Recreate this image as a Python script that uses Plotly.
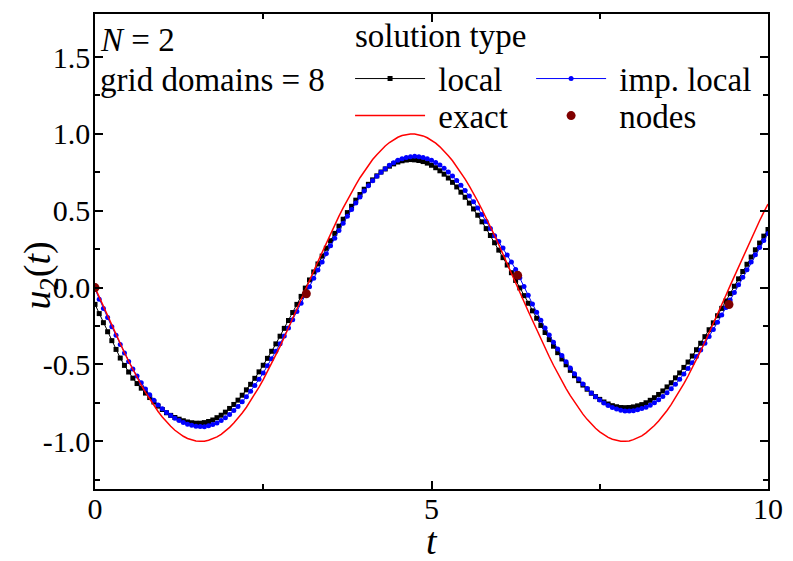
import numpy as np
import plotly.graph_objects as go

local = [
    -0.109, -0.169, -0.228, -0.287, -0.345, -0.402, -0.458, -0.506, -0.549, -0.589,
    -0.624, -0.654, -0.686, -0.715, -0.744, -0.771, -0.793, -0.814, -0.831, -0.845,
    -0.856, -0.866, -0.874, -0.879, -0.882, -0.882, -0.878, -0.871, -0.861, -0.846,
    -0.830, -0.810, -0.786, -0.760, -0.732, -0.700, -0.665, -0.629, -0.590, -0.548,
    -0.505, -0.460, -0.414, -0.366, -0.316, -0.265, -0.214, -0.162, -0.109, -0.057,
    -0.003, 0.050, 0.102, 0.154, 0.205, 0.256, 0.305, 0.353, 0.400, 0.445,
    0.488, 0.529, 0.569, 0.606, 0.640, 0.672, 0.701, 0.727, 0.752, 0.772,
    0.790, 0.805, 0.817, 0.825, 0.830, 0.833, 0.831, 0.827, 0.820, 0.810,
    0.796, 0.780, 0.760, 0.738, 0.713, 0.685, 0.655, 0.621, 0.588, 0.550,
    0.512, 0.471, 0.428, 0.384, 0.339, 0.292, 0.244, 0.195, 0.147, 0.097,
    0.047, -0.002, -0.052, -0.102, -0.151, -0.199, -0.246, -0.292, -0.338, -0.381,
    -0.423, -0.464, -0.502, -0.538, -0.573, -0.605, -0.634, -0.661, -0.687, -0.709,
    -0.727, -0.744, -0.757, -0.768, -0.775, -0.780, -0.781, -0.780, -0.776, -0.769,
    -0.761, -0.749, -0.733, -0.716, -0.695, -0.672, -0.646, -0.619, -0.587, -0.555,
    -0.519, -0.484, -0.445, -0.404, -0.362, -0.319, -0.274, -0.229, -0.183, -0.135,
    -0.087, -0.039, 0.009, 0.057, 0.105, 0.152, 0.199, 0.246, 0.290, 0.335,
    0.378,
]

imp_local = [
    -0.010, -0.075, -0.135, -0.195, -0.255, -0.310, -0.370, -0.425, -0.480, -0.530,
    -0.575, -0.619, -0.660, -0.697, -0.733, -0.763, -0.788, -0.812, -0.832, -0.850,
    -0.865, -0.877, -0.888, -0.896, -0.901, -0.904, -0.905, -0.899, -0.891, -0.880,
    -0.865, -0.847, -0.825, -0.800, -0.773, -0.743, -0.710, -0.674, -0.637, -0.596,
    -0.555, -0.509, -0.463, -0.414, -0.365, -0.314, -0.262, -0.209, -0.156, -0.101,
    -0.048, 0.006, 0.061, 0.115, 0.167, 0.221, 0.272, 0.322, 0.371, 0.419,
    0.465, 0.508, 0.550, 0.590, 0.628, 0.663, 0.695, 0.724, 0.751, 0.774,
    0.796, 0.813, 0.828, 0.839, 0.847, 0.852, 0.854, 0.852, 0.847, 0.839,
    0.828, 0.814, 0.797, 0.776, 0.752, 0.726, 0.697, 0.666, 0.632, 0.596,
    0.558, 0.518, 0.475, 0.430, 0.385, 0.338, 0.300, 0.257, 0.212, 0.166,
    0.118, 0.065, 0.008, -0.050, -0.106, -0.160, -0.213, -0.262, -0.309, -0.355,
    -0.399, -0.442, -0.483, -0.523, -0.560, -0.595, -0.627, -0.657, -0.685, -0.710,
    -0.731, -0.751, -0.767, -0.780, -0.790, -0.798, -0.802, -0.803, -0.801, -0.795,
    -0.787, -0.778, -0.765, -0.749, -0.730, -0.709, -0.684, -0.658, -0.628, -0.596,
    -0.562, -0.526, -0.488, -0.448, -0.406, -0.362, -0.318, -0.272, -0.226, -0.178,
    -0.130, -0.080, -0.031, 0.018, 0.067, 0.117, 0.166, 0.214, 0.261, 0.306,
    0.352,
]

exact = [
    0.000, -0.062, -0.125, -0.186, -0.247, -0.307, -0.366, -0.424, -0.479, -0.533,
    -0.585, -0.635, -0.682, -0.726, -0.768, -0.806, -0.841, -0.874, -0.902, -0.928,
    -0.949, -0.967, -0.981, -0.991, -0.997, -1.000, -0.999, -0.993, -0.984, -0.971,
    -0.954, -0.934, -0.909, -0.881, -0.850, -0.816, -0.778, -0.737, -0.694, -0.647,
    -0.599, -0.547, -0.494, -0.439, -0.382, -0.323, -0.263, -0.203, -0.141, -0.079,
    -0.017, 0.046, 0.108, 0.170, 0.231, 0.292, 0.351, 0.409, 0.465, 0.519,
    0.572, 0.622, 0.669, 0.715, 0.757, 0.796, 0.833, 0.865, 0.895, 0.921,
    0.944, 0.963, 0.978, 0.989, 0.996, 1.000, 0.999, 0.995, 0.987, 0.975,
    0.959, 0.940, 0.916, 0.889, 0.858, 0.825, 0.788, 0.747, 0.706, 0.660,
    0.613, 0.562, 0.508, 0.454, 0.397, 0.339, 0.279, 0.219, 0.158, 0.096,
    0.033, -0.029, -0.092, -0.154, -0.215, -0.276, -0.335, -0.393, -0.450, -0.505,
    -0.558, -0.609, -0.657, -0.703, -0.746, -0.786, -0.823, -0.857, -0.888, -0.915,
    -0.938, -0.958, -0.974, -0.986, -0.995, -0.999, -1.000, -0.997, -0.989, -0.978,
    -0.964, -0.945, -0.923, -0.897, -0.867, -0.834, -0.799, -0.759, -0.717, -0.672,
    -0.625, -0.575, -0.523, -0.468, -0.412, -0.354, -0.295, -0.235, -0.174, -0.112,
    -0.050, 0.013, 0.075, 0.137, 0.199, 0.260, 0.320, 0.378, 0.435, 0.491,
    0.544,
]

node_t = [0.0, 3.14, 6.28, 9.42]
node_u = [0.0, -0.04, 0.08, -0.11]

x_ticks = [0, 5, 10]
x_labels = ["0", "5", "10"]
y_ticks = [-1.0, -0.5, 0.0, 0.5, 1.0, 1.5]
y_labels = ["-1.0", "-0.5", "0.0", "0.5", "1.0", "1.5"]

t = np.linspace(0, 10, len(exact))

FONT = "Liberation Serif"
TICK_SIZE = 30
TEXT_SIZE = 33
TITLE_SIZE = 38
GAP = "\u00a0"  # small gap between legend sample and its text

fig = go.Figure()
fig.add_trace(go.Scatter(x=t, y=local, mode="lines+markers", name=GAP + "local",
                         line=dict(color="black", width=1),
                         marker=dict(symbol="square", size=5, color="black"),
                         legend="legend"))
fig.add_trace(go.Scatter(x=t, y=imp_local, mode="lines+markers", name=GAP + "imp. local",
                         line=dict(color="rgb(0,0,255)", width=1),
                         marker=dict(symbol="circle", size=5, color="rgb(0,0,255)"),
                         legend="legend2"))
fig.add_trace(go.Scatter(x=t, y=exact, mode="lines", name=GAP + "exact",
                         line=dict(color="rgb(255,0,0)", width=1.5),
                         legend="legend3"))
fig.add_trace(go.Scatter(x=node_t, y=node_u, mode="markers", name=GAP + "nodes",
                         marker=dict(symbol="circle", size=9, color="rgb(128,0,0)"),
                         legend="legend4"))

axis_common = dict(showline=True, linecolor="black", linewidth=1.5, mirror="ticks",
                   ticks="inside", ticklen=8, tickwidth=1.5, tickcolor="black",
                   showgrid=False, zeroline=False,
                   tickfont=dict(family=FONT, size=TICK_SIZE, color="black"))


def legend_box(x, y):
    return dict(x=x, y=y, xanchor="left", yanchor="middle",
                font=dict(family=FONT, size=TEXT_SIZE, color="black"),
                bgcolor="rgba(0,0,0,0)", itemwidth=70)


# the page body has an 8px margin, so the figure is trimmed by that much
fig.update_layout(
    width=785, height=553,
    margin=dict(l=87, r=25, t=4, b=72),
    plot_bgcolor="white", paper_bgcolor="white",
    font=dict(family=FONT, size=TEXT_SIZE, color="black"),
    xaxis=dict(range=[0, 10], tickvals=x_ticks, ticktext=x_labels,
               ticklabelstandoff=-8,
               minor=dict(tickvals=[2.5, 7.5], ticks="inside", ticklen=5,
                          tickwidth=1.5, tickcolor="black"),
               **axis_common),
    yaxis=dict(range=[-1.31, 1.78], tickvals=y_ticks, ticktext=y_labels,
               ticklabelstandoff=-3,
               minor=dict(tickvals=[-1.25, -0.75, -0.25, 0.25, 0.75, 1.25],
                          ticks="inside", ticklen=5, tickwidth=1.5, tickcolor="black"),
               **axis_common),
    legend=legend_box(0.379, 0.864),
    legend2=legend_box(0.648, 0.864),
    legend3=legend_box(0.379, 0.786),
    legend4=legend_box(0.648, 0.786),
    showlegend=True,
)

fig.add_annotation(text="solution type", xref="paper", yref="paper", x=0.384, y=0.954,
                   xanchor="left", yanchor="middle", showarrow=False,
                   font=dict(family=FONT, size=TEXT_SIZE))
fig.add_annotation(text="<i>N</i> = 2", xref="paper", yref="paper", x=0.004, y=0.945,
                   xanchor="left", yanchor="middle", showarrow=False,
                   font=dict(family=FONT, size=TEXT_SIZE))
fig.add_annotation(text="grid domains = 8", xref="paper", yref="paper", x=0.004, y=0.861,
                   xanchor="left", yanchor="middle", showarrow=False,
                   font=dict(family=FONT, size=TEXT_SIZE))
fig.add_annotation(text="<i>u</i><sub>2</sub>(<i>t</i>)", xref="paper", yref="paper",
                   x=-0.082, y=0.449, textangle=-90, showarrow=False,
                   xanchor="center", yanchor="middle",
                   font=dict(family=FONT, size=TITLE_SIZE))
fig.add_annotation(text="<i>t</i>", xref="paper", yref="paper", x=0.5, y=-0.11,
                   xanchor="center", yanchor="middle", showarrow=False,
                   font=dict(family=FONT, size=TITLE_SIZE))

fig.write_html("out.html")
